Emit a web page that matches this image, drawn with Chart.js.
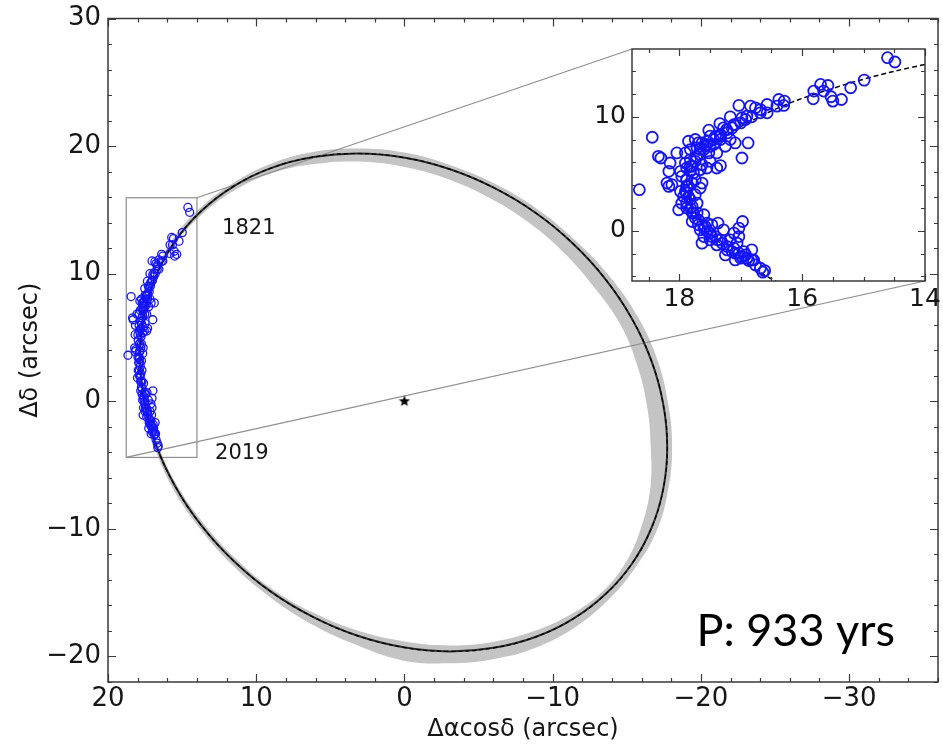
<!DOCTYPE html>
<html>
<head>
<meta charset="utf-8">
<title>Visual orbit</title>
<script src="https://cdn.jsdelivr.net/npm/chart.js@4.4.1/dist/chart.umd.min.js"></script>
<style>
  html, body { margin: 0; padding: 0; background: #fff; overflow: hidden; }
  #wrap { position: relative; width: 943px; height: 745px; overflow: hidden; background: #fff; }
  #orbitChart { position: absolute; left: 0; top: 0; }
  #insetChart { position: absolute; left: 590px; top: 40px; }
</style>
</head>
<body>
<div id="wrap">
  <canvas id="orbitChart" width="945" height="745"></canvas>
  <canvas id="insetChart" width="353" height="280"></canvas>
</div>
<script>
// Relative positions of the companion, arcsec (x = Δα cosδ, y = Δδ)
const obsX = [14.61, 14.49, 14.99, 15.21, 15.70, 15.58, 15.81, 15.82, 15.65, 15.53, 15.50, 15.36, 16.38, 16.29, 16.30,
  16.57, 16.84, 16.76, 17.03, 16.68, 16.57, 17.17, 16.98, 16.92, 16.82, 17.00, 17.09, 17.34, 17.52, 17.28, 17.22,
  17.41, 17.33, 18.44, 17.85, 17.74, 17.63, 17.54, 17.44, 17.09, 16.88, 17.17, 17.25, 17.71, 17.60, 17.50, 17.66,
  17.82, 17.90, 17.52, 17.39, 18.34, 18.30, 18.04, 18.15, 18.17, 16.98, 17.33, 17.39, 17.90, 17.82, 17.74, 17.63,
  17.50, 17.66, 17.77, 17.55, 17.98, 17.96, 17.88, 17.79, 17.63, 17.66, 18.20, 18.17, 18.12, 18.65, 17.98, 17.93,
  17.88, 17.82, 17.74, 17.71, 17.96, 18.01, 17.88, 17.79, 17.79, 17.69, 17.60, 17.55, 17.47, 17.37, 17.66, 17.60,
  17.50, 17.41, 17.33, 17.63, 17.28, 17.11, 17.03, 16.97, 17.17, 17.06, 17.03, 17.22, 17.14, 17.03, 16.95, 16.90,
  16.82, 17.00, 17.11, 16.87, 16.79, 16.68, 16.64, 16.61, 17.85, 17.79, 17.71, 17.50, 17.39, 17.25, 17.09, 17.58,
  17.74, 17.82, 17.58, 17.33, 17.14, 17.50, 17.69, 17.88,
  17.88, 17.90, 17.85, 17.88, 17.82, 17.77, 17.74, 17.69, 17.60, 17.54, 17.47, 17.38, 17.30, 17.22, 17.09, 16.98,
  16.92, 16.82, 16.76, 17.88, 17.82, 17.79, 17.72, 17.66, 17.55, 17.44, 17.33, 17.23, 17.11, 16.90, 16.68, 16.41];
const obsY = [15.19, 14.81, 13.22, 12.55, 12.84, 12.75, 12.26, 11.58, 12.26, 11.76, 11.38, 11.52, 11.52, 11.38, 11.00,
  11.08, 10.94, 10.79, 11.00, 10.64, 10.35, 10.00, 9.91, 9.76, 10.00, 9.47, 9.32, 9.41, 8.83, 9.03, 8.59,
  8.30, 8.01, 8.21, 7.86, 8.01, 7.71, 7.86, 7.57, 7.71, 7.71, 8.01, 7.42, 7.27, 7.13, 7.42, 6.69,
  7.13, 6.83, 6.83, 6.83, 6.54, 6.39, 6.83, 5.95, 5.22, 6.39, 5.72, 5.51, 5.95, 5.66, 6.10, 5.81,
  6.10, 5.37, 5.07, 5.51, 5.22, 4.78, 4.49, 4.19, 4.19, 3.75, 4.19, 3.90, 4.05, 3.61, 3.46, 3.02,
  3.31, 2.73, 3.17, 2.43, 2.43, 1.85, 2.00, 1.56, 0.82, 0.97, 1.41, 0.68, 0.53, 0.68, 0.09, -0.50,
  -0.20, -0.50, -0.79, -1.08, 0.09, -0.20, 0.24, 0.82, -0.79, -1.08, -0.50, -1.38, -1.82, -1.96, -1.82, -2.40,
  -1.67, -2.40, -1.52, -2.61, -2.55, -3.28, -3.63, -3.49, 3.90, 2.14, 1.56, -0.79, -1.23, -2.11, -2.55, 0.38,
  4.49, 6.25, 7.42, 8.44, 9.03, 8.30, 7.71, 5.51,
  3.90, 3.46, 3.02, 2.43, 2.00, 1.56, 1.12, 0.53, 0.24, -0.06, -0.50, -0.79, -1.08, -1.67, -1.96, -2.26,
  -2.11, -2.55, -2.99, 4.49, 5.22, 5.66, 6.54, 7.13, 7.57, 8.01, 8.30, 8.88, 9.32, 10.06, 10.35, 10.94];

// Best-fit orbit, closed loop (first point repeated at the end)
const orbitX = [17.58, 17.85, 17.58, 16.78, 15.47, 13.69, 11.50, 8.96, 6.14, 3.15, 0.06, -3.03, -6.02, -8.84,
  -11.38, -13.57, -15.35, -16.66, -17.46, -17.73, -17.46, -16.66, -15.35, -13.57, -11.38, -8.84, -6.02, -3.03,
  0.06, 3.15, 6.14, 8.96, 11.50, 13.69, 15.47, 16.78, 17.58];
const orbitY = [0.04, 3.42, 6.70, 9.77, 12.55, 14.93, 16.87, 18.29, 19.14, 19.42, 19.10, 18.20, 16.74, 14.78,
  12.35, 9.56, 6.47, 3.18, -0.22, -3.60, -6.88, -9.95, -12.73, -15.11, -17.05, -18.47, -19.32, -19.60,
  -19.28, -18.38, -16.92, -14.96, -12.53, -9.74, -6.65, -3.36, 0.04];

// Spread of the orbit solutions: outer and inner envelope
const bandOuterX = [17.71, 17.98, 17.71, 16.90, 15.63, 13.83, 11.60, 9.05, 6.20, 3.15, 0.00, -3.11, -6.14, -8.99,
  -11.56, -13.83, -15.70, -17.04, -17.79, -18.06, -17.79, -17.03, -15.62, -13.84, -11.66, -9.07, -6.14, -3.03,
  0.20, 3.34, 6.35, 9.15, 11.68, 13.85, 15.65, 16.91, 17.71];
const bandOuterY = [0.01, 3.42, 6.73, 9.83, 12.69, 15.10, 17.07, 18.59, 19.53, 19.81, 19.49, 18.50, 17.02, 15.04,
  12.58, 9.80, 6.70, 3.34, -0.15, -3.60, -6.96, -10.13, -12.96, -15.46, -17.59, -19.21, -20.17, -20.54,
  -20.29, -19.05, -17.41, -15.28, -12.76, -9.89, -6.77, -3.42, 0.01];
const bandInnerX = [17.45, 17.72, 17.45, 16.66, 15.36, 13.55, 11.36, 8.85, 6.06, 3.15, 0.16, -2.82, -5.69, -8.38,
  -10.79, -12.84, -14.59, -15.72, -16.38, -16.62, -16.60, -16.04, -15.02, -13.39, -11.21, -8.70, -5.95, -3.03,
  -0.01, 3.05, 6.02, 8.85, 11.36, 13.53, 15.35, 16.65, 17.45];
const bandInnerY = [0.07, 3.42, 6.67, 9.71, 12.46, 14.76, 16.60, 17.92, 18.60, 18.79, 18.40, 17.46, 15.97, 14.01,
  11.61, 8.88, 5.97, 2.77, -0.45, -3.60, -6.70, -9.64, -12.46, -14.88, -16.71, -18.03, -18.86, -19.13,
  -18.82, -18.01, -16.64, -14.77, -12.36, -9.59, -6.57, -3.31, 0.07];

const primaryX = [0];
const primaryY = [0];

const mainXTicks = [20, 10, 0, -10, -20, -30];
const mainYTicks = [-20, -10, 0, 10, 20, 30];
const insetXTicks = [18, 16, 14];
const insetYTicks = [0, 10];

const epochLabels = ['1821', '2019'];
const periodLabel = 'P: 933 yrs';

// Zoomed window shown in the inset
const insetXRange = [14, 18.77];
const insetYRange = [-4.4, 15.95];

// Pixel layout of the inset plot box on the page
const INSET_BOX = { left: 632, top: 49, right: 925, bottom: 281 };
const INSET_CANVAS = { left: 590, top: 40, width: 353, height: 280 };

const TEXT_COLOR = '#161616';
const FRAME_COLOR = '#3a3a3a';
const OBS_COLOR = '#1414ff';

function toPoints(xs, ys) {
    return xs.map((x, i) => ({ x, y: ys[i] }));
}

function minusSign(value) {
    return String(value).replace('-', '\u2212');
}

function makeStar(r) {
    const c = document.createElement('canvas');
    const s = Math.ceil(r * 2 + 2);
    c.width = s;
    c.height = s;
    const g = c.getContext('2d');
    g.translate(s / 2, s / 2);
    g.beginPath();
    for (let k = 0; k < 10; k++) {
        const rad = k % 2 ? r * 0.42 : r;
        const ang = -Math.PI / 2 + k * Math.PI / 5;
        g.lineTo(rad * Math.cos(ang), rad * Math.sin(ang));
    }
    g.closePath();
    g.fillStyle = '#000';
    g.fill();
    return c;
}

// matplotlib-like frame: box plus inward major/minor ticks on all four sides
function drawTickFrame(chart, cfg) {
    const { ctx, chartArea: a } = chart;
    const xs = chart.scales.x;
    const ys = chart.scales.y;
    ctx.save();
    ctx.strokeStyle = FRAME_COLOR;
    ctx.lineWidth = 1.2;
    ctx.beginPath();
    const xMark = (v, len) => {
        const p = Math.round(xs.getPixelForValue(v)) + 0.5;
        ctx.moveTo(p, a.bottom); ctx.lineTo(p, a.bottom - len);
        ctx.moveTo(p, a.top); ctx.lineTo(p, a.top + len);
    };
    const yMark = (v, len) => {
        const p = Math.round(ys.getPixelForValue(v)) + 0.5;
        ctx.moveTo(a.left, p); ctx.lineTo(a.left + len, p);
        ctx.moveTo(a.right, p); ctx.lineTo(a.right - len, p);
    };
    for (let k = Math.ceil(xs.min / cfg.xMinor); k <= Math.floor(xs.max / cfg.xMinor); k++) xMark(k * cfg.xMinor, cfg.minorLen);
    for (let k = Math.ceil(ys.min / cfg.yMinor); k <= Math.floor(ys.max / cfg.yMinor); k++) yMark(k * cfg.yMinor, cfg.minorLen);
    cfg.xMajor.forEach(v => xMark(v, cfg.majorLen));
    cfg.yMajor.forEach(v => yMark(v, cfg.majorLen));
    ctx.stroke();
    ctx.lineWidth = 1.5;
    ctx.strokeRect(a.left, a.top, a.right - a.left, a.bottom - a.top);
    ctx.restore();
}

// zoom box around the observed arc and the two guide lines to the inset
function drawZoomGuides(chart) {
    const { ctx } = chart;
    const xs = chart.scales.x;
    const ys = chart.scales.y;
    const x0 = xs.getPixelForValue(insetXRange[1]);
    const x1 = xs.getPixelForValue(insetXRange[0]);
    const y0 = ys.getPixelForValue(insetYRange[1]);
    const y1 = ys.getPixelForValue(insetYRange[0]);
    ctx.save();
    ctx.strokeStyle = '#8e8e8e';
    ctx.lineWidth = 1.2;
    ctx.strokeRect(x0, y0, x1 - x0, y1 - y0);
    ctx.beginPath();
    ctx.moveTo(x1, y0);
    ctx.lineTo(INSET_BOX.left, INSET_BOX.top);
    ctx.moveTo(x0, y1);
    ctx.lineTo(INSET_BOX.right, INSET_BOX.bottom);
    ctx.stroke();
    ctx.restore();
}

const orbitNotes = {
    id: 'orbitNotes',
    afterDatasetDraw(chart, args) {
        if (chart.data.datasets[args.index].role === 'bandInner') drawZoomGuides(chart);
    },
    afterDraw(chart) {
        const { ctx } = chart;
        const xs = chart.scales.x;
        const ys = chart.scales.y;
        drawTickFrame(chart, { xMajor: mainXTicks, yMajor: mainYTicks, xMinor: 2, yMinor: 2, majorLen: 8, minorLen: 4 });
        ctx.save();
        ctx.fillStyle = TEXT_COLOR;
        ctx.font = '21px "DejaVu Sans"';
        ctx.textAlign = 'center';
        ctx.textBaseline = 'middle';
        ctx.fillText(epochLabels[0], xs.getPixelForValue(10.5), ys.getPixelForValue(13.5));
        ctx.fillText(epochLabels[1], xs.getPixelForValue(10.97), ys.getPixelForValue(-4.12));
        ctx.fillStyle = '#000';
        ctx.font = '45px Lato';
        ctx.textAlign = 'left';
        ctx.textBaseline = 'alphabetic';
        ctx.fillText(periodLabel, xs.getPixelForValue(-19.7), ys.getPixelForValue(-19.2));
        ctx.restore();
    }
};

const insetFrame = {
    id: 'insetFrame',
    beforeDatasetsDraw(chart) {
        const { ctx, chartArea: a } = chart;
        ctx.save();
        ctx.fillStyle = '#fff';
        ctx.fillRect(a.left, a.top, a.right - a.left, a.bottom - a.top);
        ctx.restore();
    },
    afterDraw(chart) {
        drawTickFrame(chart, { xMajor: insetXTicks, yMajor: insetYTicks, xMinor: 0.5, yMinor: 2, majorLen: 7, minorLen: 4 });
    }
};

const tickFont = { family: 'DejaVu Sans', size: 26 };
const insetTickFont = { family: 'DejaVu Sans', size: 25 };
const starImage = makeStar(6);
// tick marks come from drawTickFrame, so the scales reserve no room for them
const noGrid = { display: false, drawTicks: false };

function orbitLine(width, dash, order) {
    return {
        type: 'line',
        data: toPoints(orbitX, orbitY),
        borderColor: dash.length ? '#000' : '#2b2b2b',
        borderWidth: width,
        borderDash: dash,
        pointRadius: 0,
        tension: 0.4,
        fill: false,
        order
    };
}

new Chart(document.getElementById('orbitChart'), {
    type: 'scatter',
    data: {
        datasets: [
            {
                type: 'line', role: 'bandOuter',
                data: toPoints(bandOuterX, bandOuterY),
                fill: 'shape', backgroundColor: '#c4c4c4',
                borderWidth: 0, pointRadius: 0, tension: 0.4, order: 10
            },
            {
                type: 'line', role: 'bandInner',
                data: toPoints(bandInnerX, bandInnerY),
                fill: 'shape', backgroundColor: '#ffffff',
                borderWidth: 0, pointRadius: 0, tension: 0.4, order: 9
            },
            orbitLine(2, [], 6),
            orbitLine(1.2, [4, 3], 5),
            {
                data: toPoints(obsX, obsY),
                pointStyle: 'circle', pointRadius: 4,
                borderColor: OBS_COLOR, borderWidth: 1.3,
                backgroundColor: 'rgba(0,0,0,0)', order: 2
            },
            {
                data: toPoints(primaryX, primaryY),
                pointStyle: starImage, pointRadius: 6, order: 1
            }
        ]
    },
    options: {
        responsive: false,
        animation: false,
        devicePixelRatio: 1,
        layout: { padding: { top: 18.5, right: 0, bottom: 0, left: 0 } },
        plugins: { legend: { display: false }, tooltip: { enabled: false } },
        scales: {
            x: {
                type: 'linear', reverse: true, min: -36, max: 20,
                grid: noGrid, border: { display: false },
                afterBuildTicks: s => { s.ticks = mainXTicks.map(v => ({ value: v })); },
                afterFit: s => { s.height = 63; s.paddingLeft = 0; s.paddingRight = 0; },
                ticks: { font: tickFont, color: TEXT_COLOR, padding: 2, maxRotation: 0, autoSkip: false, callback: minusSign },
                title: {
                    display: true, text: 'Δαcosδ (arcsec)', color: TEXT_COLOR,
                    font: { family: 'DejaVu Sans', size: 24 }, padding: { top: 0, bottom: 1 }
                }
            },
            y: {
                type: 'linear', min: -22, max: 30,
                grid: noGrid, border: { display: false },
                afterBuildTicks: s => { s.ticks = mainYTicks.map(v => ({ value: v })); },
                afterFit: s => { s.width = 108; s.paddingTop = 0; s.paddingBottom = 0; },
                ticks: { font: tickFont, color: TEXT_COLOR, padding: 7, autoSkip: false, callback: minusSign },
                title: {
                    display: true, text: 'Δδ (arcsec)', color: TEXT_COLOR,
                    font: { family: 'DejaVu Sans', size: 24 }, padding: { top: 16, bottom: 0 }
                }
            }
        }
    },
    plugins: [orbitNotes]
});

const insetCanvas = document.getElementById('insetChart');
insetCanvas.style.left = INSET_CANVAS.left + 'px';
insetCanvas.style.top = INSET_CANVAS.top + 'px';

new Chart(insetCanvas, {
    type: 'scatter',
    data: {
        datasets: [
            {
                type: 'line',
                data: toPoints(orbitX, orbitY),
                borderColor: '#000', borderWidth: 1.5, borderDash: [5, 3],
                pointRadius: 0, tension: 0.4, fill: false, order: 3
            },
            {
                data: toPoints(obsX, obsY),
                pointStyle: 'circle', pointRadius: 5.5,
                borderColor: OBS_COLOR, borderWidth: 1.8,
                backgroundColor: 'rgba(0,0,0,0)', order: 2
            }
        ]
    },
    options: {
        responsive: false,
        animation: false,
        devicePixelRatio: 1,
        layout: {
            padding: {
                top: INSET_BOX.top - INSET_CANVAS.top,
                right: INSET_CANVAS.left + INSET_CANVAS.width - INSET_BOX.right,
                bottom: 0, left: 0
            }
        },
        plugins: { legend: { display: false }, tooltip: { enabled: false } },
        scales: {
            x: {
                type: 'linear', reverse: true, min: insetXRange[0], max: insetXRange[1],
                grid: noGrid, border: { display: false },
                afterBuildTicks: s => { s.ticks = insetXTicks.map(v => ({ value: v })); },
                afterFit: s => {
                    s.height = INSET_CANVAS.top + INSET_CANVAS.height - INSET_BOX.bottom;
                    s.paddingLeft = 0; s.paddingRight = 0;
                },
                ticks: { font: insetTickFont, color: TEXT_COLOR, padding: 3, maxRotation: 0, autoSkip: false }
            },
            y: {
                type: 'linear', min: insetYRange[0], max: insetYRange[1],
                grid: noGrid, border: { display: false },
                afterBuildTicks: s => { s.ticks = insetYTicks.map(v => ({ value: v })); },
                afterFit: s => {
                    s.width = INSET_BOX.left - INSET_CANVAS.left;
                    s.paddingTop = 0; s.paddingBottom = 0;
                },
                ticks: { font: insetTickFont, color: TEXT_COLOR, padding: 6, autoSkip: false }
            }
        }
    },
    plugins: [insetFrame]
});
</script>
</body>
</html>
